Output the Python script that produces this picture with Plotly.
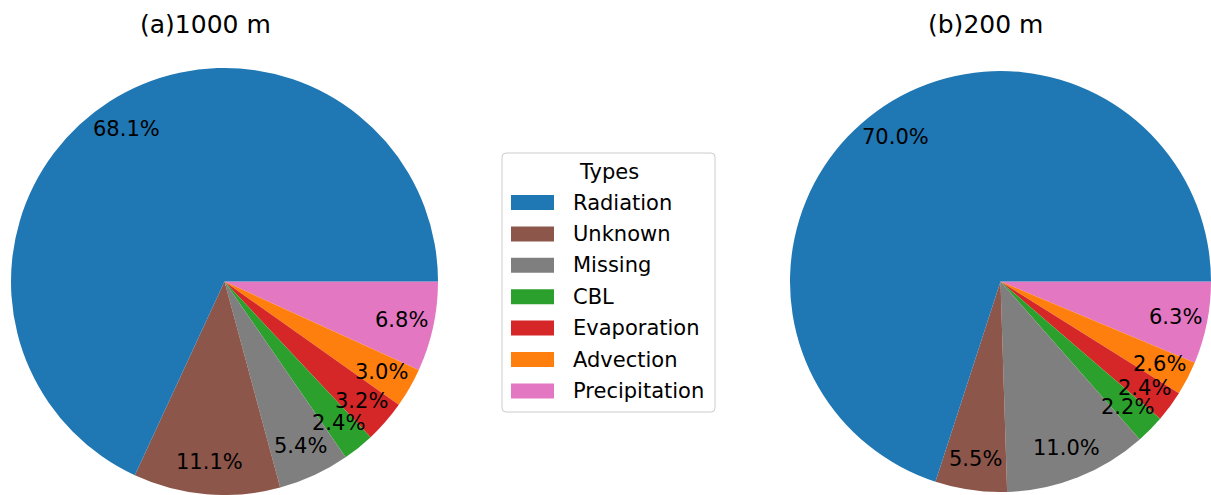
import numpy as np
import plotly.graph_objects as go

W, H = 1211, 495

categories = ["Radiation", "Unknown", "Missing", "CBL", "Evaporation", "Advection", "Precipitation"]
share_1000m = [68.1, 11.1, 5.4, 2.4, 3.2, 3.0, 6.8]
share_200m = [70.0, 5.5, 11.0, 2.2, 2.4, 2.6, 6.3]
colors = ["#1f77b4", "#8c564b", "#7f7f7f", "#2ca02c", "#d62728", "#ff7f0e", "#e377c2"]
titles = ["(a)1000 m", "(b)200 m"]

FONT = "DejaVu Sans"
PCT_DIST = 0.85

# pie boxes in pixels (left, top, right, bottom) and title centres
boxes = [(11, 68, 438, 495), (790, 68, 1211, 495)]
title_cx = [206, 985]


def px(x):
    return x / W


def py(y):
    return 1 - y / H


fig = go.Figure()
annotations = []
shapes = []

for values, box, title, tcx in zip([share_1000m, share_200m], boxes, titles, title_cx):
    l, t, r_, b = box
    # counter-clockwise from 3 o'clock == reversed order clockwise from 3 o'clock
    fig.add_trace(go.Pie(
        labels=categories[::-1],
        values=values[::-1],
        marker=dict(colors=colors[::-1], line=dict(width=0)),
        sort=False,
        direction="clockwise",
        rotation=90,
        textinfo="none",
        hoverinfo="label+percent",
        showlegend=False,
        domain=dict(x=[px(l), px(r_)], y=[py(b), py(t)]),
    ))

    # percentage labels at 0.85 of the radius, on each slice's mid-angle
    radius = min(r_ - l, b - t) / 2
    cx, cy = (l + r_) / 2, (t + b) / 2
    vals = np.array(values, dtype=float)
    starts = np.concatenate([[0], np.cumsum(vals)[:-1]])
    mids = 2 * np.pi * (starts + vals / 2) / vals.sum()
    for v, th in zip(vals, mids):
        annotations.append(dict(
            x=px(cx + PCT_DIST * radius * np.cos(th)),
            y=py(cy - PCT_DIST * radius * np.sin(th)),
            xref="paper", yref="paper", showarrow=False,
            text=f"{v:.1f}%", xanchor="center", yanchor="middle",
            font=dict(family=FONT, size=21, color="black"),
        ))

    annotations.append(dict(
        x=px(tcx), y=py(25), xref="paper", yref="paper", showarrow=False,
        text=title, xanchor="center", yanchor="middle",
        font=dict(family=FONT, size=25, color="black"),
    ))

# legend box with rounded corners
lx0, ly0, lx1, ly1, rad = 502, 153, 715, 412, 4
rx, ry = rad / W, rad / H
X0, X1, Y0, Y1 = px(lx0), px(lx1), py(ly0), py(ly1)
path = (f"M{X0 + rx},{Y0} L{X1 - rx},{Y0} Q{X1},{Y0} {X1},{Y0 - ry} "
        f"L{X1},{Y1 + ry} Q{X1},{Y1} {X1 - rx},{Y1} "
        f"L{X0 + rx},{Y1} Q{X0},{Y1} {X0},{Y1 + ry} "
        f"L{X0},{Y0 - ry} Q{X0},{Y0} {X0 + rx},{Y0} Z")
shapes.append(dict(type="path", path=path, xref="paper", yref="paper",
                   line=dict(color="#cccccc", width=1), fillcolor="white"))

annotations.append(dict(
    x=px((lx0 + lx1) / 2), y=py(172), xref="paper", yref="paper", showarrow=False,
    text="Types", xanchor="center", yanchor="middle",
    font=dict(family=FONT, size=21, color="black"),
))

row0, row_step = 202.5, 31.4
for i, (name, col) in enumerate(zip(categories, colors)):
    yc = row0 + i * row_step
    shapes.append(dict(type="rect", xref="paper", yref="paper",
                       x0=px(511), x1=px(554), y0=py(yc - 7.5), y1=py(yc + 7.5),
                       fillcolor=col, line=dict(width=0)))
    annotations.append(dict(
        x=px(571), y=py(yc), xref="paper", yref="paper", showarrow=False,
        text=name, xanchor="left", yanchor="middle",
        font=dict(family=FONT, size=21, color="black"),
    ))

fig.update_layout(
    width=W, height=H,
    margin=dict(l=0, r=0, t=0, b=0),
    paper_bgcolor="white", plot_bgcolor="white",
    annotations=annotations, shapes=shapes,
    font=dict(family=FONT),
)

fig.write_html("out.html")
